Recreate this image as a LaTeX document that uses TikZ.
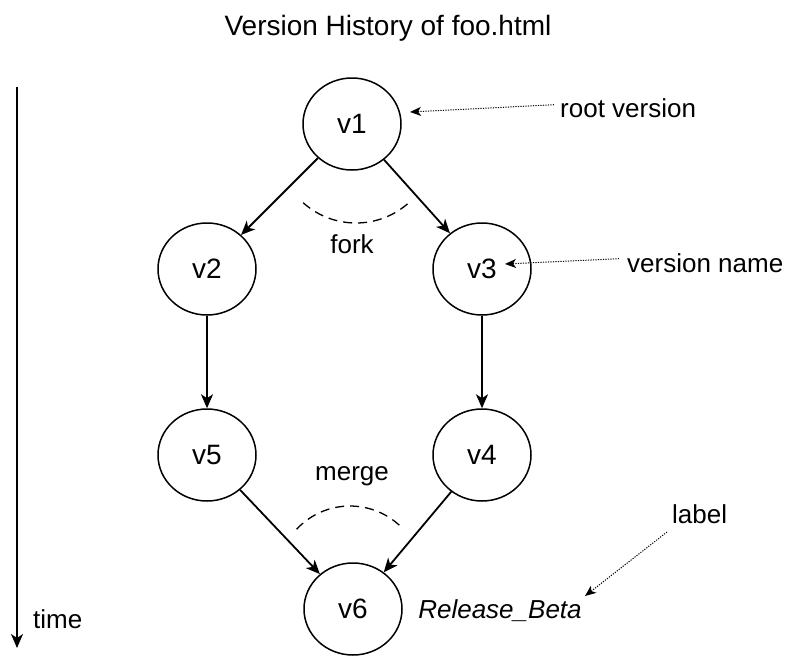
\documentclass[tikz,border=0pt]{standalone}
\usepackage{fontspec}
\setmainfont{Liberation Sans}
\usetikzlibrary{arrows.meta,shapes.geometric}
\begin{document}
\begin{tikzpicture}[x=1pt,y=-1pt,
  ver/.style={draw,ellipse,line width=1.5pt,minimum width=98pt,minimum height=92pt,inner sep=0pt,font=\fontsize{28}{32}\selectfont},
  lbl/.style={inner sep=0pt,font=\fontsize{26}{30}\selectfont},
  edge/.style={line width=1.8pt,-{Stealth[length=14pt,width=12pt,inset=4pt]}},
  note/.style={line width=1pt,dash pattern=on 1.2pt off 1.3pt,-{Stealth[length=11pt,width=9pt,inset=3pt]}},
  arcline/.style={line width=1.3pt,dash pattern=on 9pt off 6pt}]
\useasboundingbox (0,0) rectangle (790,656);
% title
\node[lbl,anchor=base,font=\fontsize{28}{32}\selectfont] (title) at (388,35) {Version History of foo.html};
% time axis
\coordinate (ttop) at (17,87);
\coordinate (tbot) at (17,648);
\draw[edge] (ttop) -- (tbot);
\node[lbl,anchor=base west] (time) at (33,628) {time};
% versions
\node[ver] (v1) at (352,124) {v1};
\node[ver] (v2) at (207,269) {v2};
\node[ver] (v3) at (482,269) {v3};
\node[ver] (v5) at (207,455) {v5};
\node[ver] (v4) at (482,455) {v4};
\node[ver] (v6) at (353,609) {v6};
\draw[edge] (v1) -- (v2);
\draw[edge] (v1) -- (v3);
\draw[edge] (v2) -- (v5);
\draw[edge] (v3) -- (v4);
\draw[edge] (v5) -- (v6);
\draw[edge] (v4) -- (v6);
% fork / merge
\node[lbl,anchor=base] (fork) at (352,253) {fork};
\draw[arcline] (356,144) ++(132:79) arc[start angle=132,end angle=48,radius=79];
\node[lbl,anchor=base] (merge) at (352,480) {merge};
\draw[arcline] (350,579) ++(-137:73) arc[start angle=-137,end angle=-44,radius=73];
% annotations
\node[lbl,anchor=base west] (root) at (560,117) {root version};
\coordinate (roottip) at (410,112);
\draw[note] (root.west) ++(-6,-3) -- (roottip);
\node[lbl,anchor=base west] (vname) at (627,272) {version name};
\coordinate (vnametip) at (505,264);
\draw[note] (vname.west) ++(-8,-4) -- (vnametip);
\node[lbl,anchor=base,font=\itshape\fontsize{26}{30}\selectfont] (rel) at (500,618) {Release\_Beta};
\node[lbl,anchor=base west] (label) at (672,523) {label};
\coordinate (labelstart) at (667,532);
\coordinate (labeltip) at (585,596);
\draw[note] (labelstart) -- (labeltip);
\end{tikzpicture}
\end{document}
